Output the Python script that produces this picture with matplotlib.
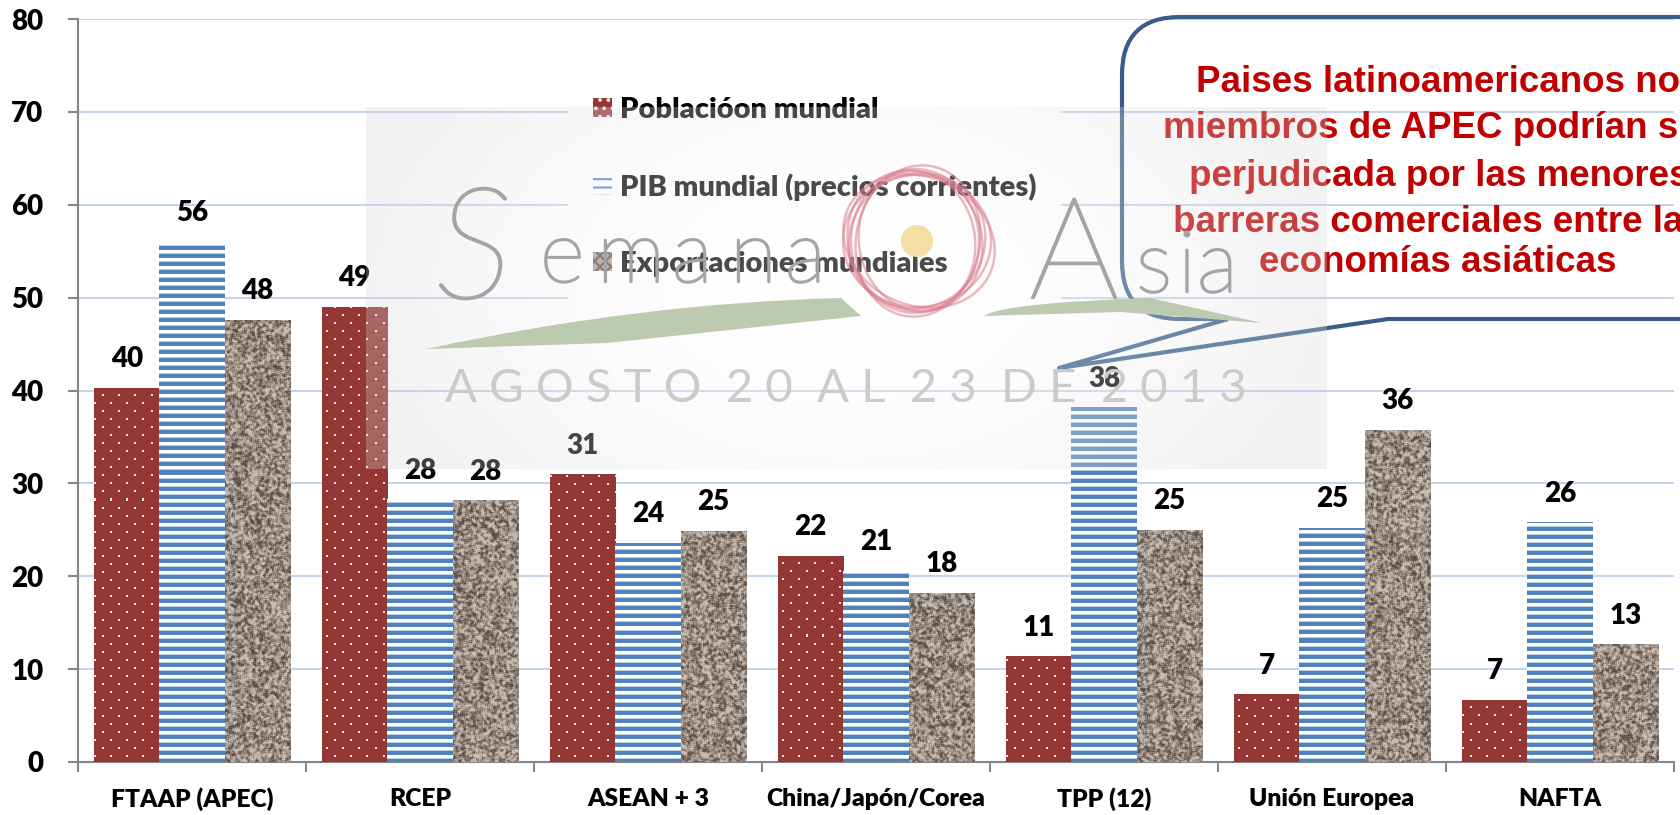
from matplotlib import pyplot as plt
from matplotlib import patheffects
from matplotlib.patches import Patch, PathPatch, Ellipse, Circle
from matplotlib.path import Path
import numpy as np

W, H = 1681, 815

categories = ["FTAAP (APEC)", "RCEP", "ASEAN + 3", "China/Japón/Corea", "TPP (12)", "Unión Europea", "NAFTA"]
poblacion = [40.3, 49.0, 31.0, 22.2, 11.4, 7.3, 6.7]
pib = [56.0, 28.3, 23.6, 20.6, 38.2, 25.2, 25.8]
exportaciones = [47.6, 28.2, 24.9, 18.2, 25.0, 35.8, 12.7]
series_names = ["Poblacióon mundial", "PIB mundial (precios corrientes)", "Exportaciones mundiales"]
yticks = [0, 10, 20, 30, 40, 50, 60, 70, 80]
callout_lines = ["Paises latinoamericanos no", "miembros de APEC podrían s", "perjudicada por las menores",
                 "barreras comerciales entre la", "economías asiáticas"]

LATO = ["Lato", "DejaVu Sans"]
ARIAL = ["Liberation Sans", "DejaVu Sans"]


def rgb(hexcolor):
    return np.array([int(hexcolor[i:i + 2], 16) / 255 for i in (1, 3, 5)])


def box(a, n):
    return sum(np.roll(np.roll(a, i, 0), j, 1) for i in range(-n, n + 1) for j in range(-n, n + 1)) / (2 * n + 1) ** 2


# bar textures, one pixel of image per pixel of the axes
th, tw = 743, 1596
yy, xx = np.mgrid[0:th, 0:tw]

dots = np.ones((th, tw, 3)) * rgb("#943634")
row = yy // 8
on = (yy % 8 < 2) & ((xx + 8 * (row % 2)) % 16 < 2)
dots[on] = rgb("#f4e6e4")

stripes = np.ones((th, tw, 3)) * rgb("#ffffff")
stripes[(th - yy) % 8 < 4] = rgb("#4f81bd")
stripes[(th - yy) % 8 == 4] = rgb("#b9cde5")

noise = (np.sin(xx * 12.9898 + yy * 78.233) * 43758.5453) % 1.0
blur = box(noise, 1)
blur = np.clip((blur - 0.5) * 3.2 + 0.55, 0, 1)
granite = rgb("#5d5047")[None, None, :] * (1 - blur[..., None]) + rgb("#c9bcb1")[None, None, :] * blur[..., None]

fig = plt.figure(figsize=(W / 100, H / 100), dpi=100)
ax = fig.add_axes([78 / W, (H - 762) / H, 1596 / W, 743 / H])

x = np.arange(len(categories)) + 0.5
w = 65.3 / 228
groups = [(poblacion, -w, "#943634", dots), (pib, 0, "#4f81bd", stripes), (exportaciones, w, "#a89a8e", granite)]
for values, off, color, tex in groups:
    bars = ax.bar(x + off, values, width=w, color=color, zorder=2)
    for b in bars:
        im = ax.imshow(tex, extent=(0, 7, 0, 80), aspect="auto", interpolation="nearest", zorder=3)
        im.set_clip_path(b)
    for a, v in zip(x + off, values):
        ax.annotate("{:.0f}".format(v), (a, v), xytext=(0, 20.5), textcoords="offset points", ha="center", va="center",
                    fontsize=20, fontweight="heavy", family=LATO, color="black", zorder=4)

ax.set_xlim(0, 7)
ax.set_ylim(0, 80)
ax.set_yticks(yticks)
ax.set_xticks(range(8))
ax.set_xticklabels([])
ax.tick_params(axis="both", color="#868686", width=1.5, length=7)
ax.tick_params(axis="y", pad=18, labelsize=20, labelcolor="black")
for t in ax.get_yticklabels():
    t.set_fontweight("heavy")
    t.set_family(LATO)
for a, c in zip(x, categories):
    ax.annotate(c, (a, 0), xytext=(0, -27), textcoords="offset points", ha="center", va="center",
                fontsize=17.7, fontweight="heavy", family=LATO, annotation_clip=False)
ax.grid(axis="y", color="#c5d3ec", lw=1.5, zorder=0)
ax.set_axisbelow(True)
for s in ["top", "right"]:
    ax.spines[s].set_visible(False)
for s in ["left", "bottom"]:
    ax.spines[s].set_color("#868686")
    ax.spines[s].set_linewidth(1.5)

plt.rcParams["hatch.linewidth"] = 1.5
handles = [Patch(facecolor="#943634", hatch="..", edgecolor="#f4e6e4", lw=0),
           Patch(facecolor="white", hatch="--", edgecolor="#4f81bd", lw=0),
           Patch(facecolor="#a89a8e", hatch="xxx", edgecolor="#5a4c44", lw=0)]
leg = ax.legend(handles, series_names, loc="upper left", bbox_to_anchor=(568 / W, 1 - 72 / H), bbox_transform=fig.transFigure,
                frameon=True, facecolor="white", edgecolor="none", framealpha=1, fancybox=False, labelspacing=1.72,
                handlelength=0.65, handleheight=0.65, handletextpad=0.28, borderpad=0.85, borderaxespad=0,
                prop={"family": LATO, "weight": "heavy", "size": 21})
leg.set_zorder(5)

# callout, watermark and its white veil go on a pixel sized layer over the chart
ov = fig.add_axes([0, 0, 1, 1], zorder=3)
ov.set_xlim(0, W)
ov.set_ylim(H, 0)
ov.axis("off")

L, T, R, B, r = 1122, 17, 1720, 319, 58
verts = [(1228, B), (1059, 368), (1388, B), (R, B), (R, T), (L + r, T), (L, T), (L, T + r), (L, B - r), (L, B), (L + r, B), (1228, B)]
codes = [Path.MOVETO, Path.LINETO, Path.LINETO, Path.LINETO, Path.LINETO, Path.LINETO, Path.CURVE3, Path.CURVE3,
         Path.LINETO, Path.CURVE3, Path.CURVE3, Path.LINETO]
ov.add_patch(PathPatch(Path(verts, codes), facecolor="none", edgecolor="#385d8a", lw=3, joinstyle="round", zorder=2))

line_x = [1196, 1163, 1189, 1173, 1259]
line_y = [83, 128, 176, 223, 263]
for tx, ty, s in zip(line_x, line_y, callout_lines):
    ov.text(tx, ty, s, ha="left", va="center", fontsize=26.5, fontweight="bold", family=ARIAL, color="#c00000", zorder=3)

gray = "#a4a4a4"
thick = [patheffects.withStroke(linewidth=1.6, foreground=gray)]
ov.text(436, 298, "S", ha="left", va="baseline", fontsize=112, family=LATO, style="italic", fontweight="light", color=gray,
        zorder=5, path_effects=thick)
for lx, ch in zip([540, 597, 672, 730, 785], "emana"):
    ov.text(lx, 282, ch, ha="left", va="baseline", fontsize=62, family=LATO, fontweight="light", color=gray, zorder=5,
            path_effects=thick)
ov.text(1029, 298, "A", ha="left", va="baseline", fontsize=102, family=LATO, fontweight="light", color=gray, zorder=5,
        path_effects=thick)
for lx, ch in zip([1136, 1178, 1197], "sia"):
    ov.text(lx, 292, ch, ha="left", va="baseline", fontsize=62, family=LATO, fontweight="light", color=gray, zorder=5,
            path_effects=thick)
ov.text(445, 389, "A G O S T O  2 0  A L  2 3  D E  2 0 1 3", ha="left", va="center", fontsize=34, family=LATO,
        color="#cbcbcb", zorder=5)

green = "#bccab0"
swoosh1 = [(426, 349), (640, 303), (841, 298), (861, 316), (607, 343), (426, 349)]
swoosh2 = [(984, 316), (1002, 303), (1150, 298), (1262, 323), (1120, 312), (984, 316)]
scodes = [Path.MOVETO, Path.CURVE3, Path.CURVE3, Path.LINETO, Path.LINETO, Path.LINETO]
ov.add_patch(PathPatch(Path(swoosh1, scodes), facecolor=green, edgecolor="none", zorder=4))
ov.add_patch(PathPatch(Path(swoosh2, scodes), facecolor=green, edgecolor="none", zorder=4))

for ang, rw, rh, dx in [(0, 74, 66, 0), (25, 78, 64, 2), (60, 72, 66, -2), (100, 76, 62, 1), (140, 70, 66, 0), (0, 64, 72, -2), (80, 70, 58, 0)]:
    ov.add_patch(Ellipse((917 + dx, 241), 2 * rw, 2 * rh, angle=ang, fill=False, edgecolor="#d9808f", alpha=0.55, lw=1.8, zorder=6))
ov.add_patch(Circle((917, 241), 16, facecolor="#f3dfa3", edgecolor="none", zorder=4))

# veil: gray toward the edges, white in the middle
vy, vx = np.mgrid[0:362, 0:961]
d = np.clip(np.hypot((vx - 480) / 480, (vy - 180) / 300), 0, 1) ** 2
veil = np.ones((362, 961, 4))
veil[..., :3] = (1 - 0.16 * d)[..., None]
veil[..., 3] = 0.3
ov.imshow(veil, extent=(366, 1327, 469, 107), aspect="auto", zorder=3.5)
ov.set_xlim(0, W)
ov.set_ylim(H, 0)

fig.savefig("out.png", dpi=100)
